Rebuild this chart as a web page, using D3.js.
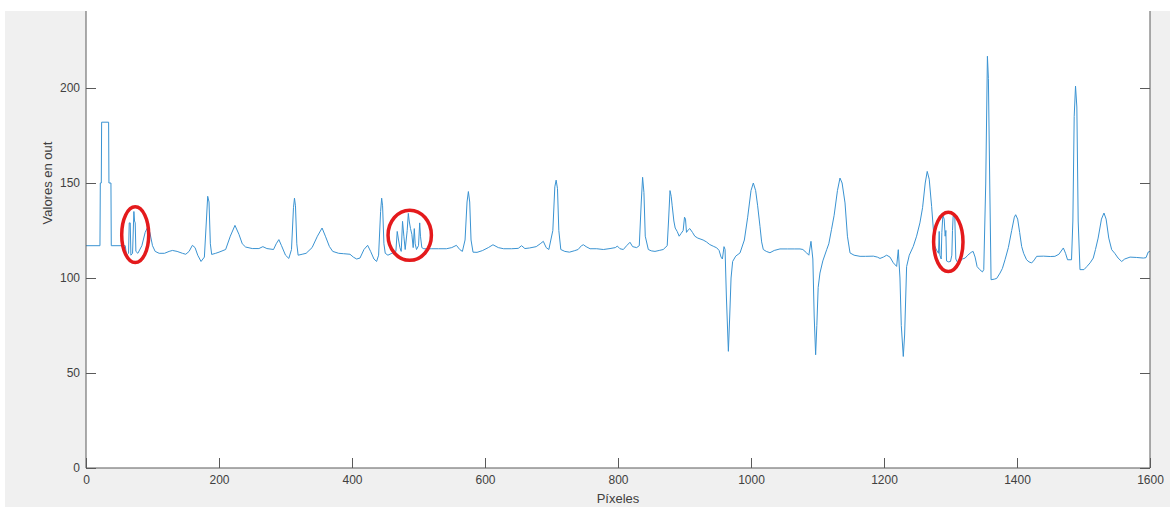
<!DOCTYPE html>
<html>
<head>
<meta charset="utf-8">
<script src="https://cdn.jsdelivr.net/npm/d3@7"></script>
<style>
  html, body { margin: 0; padding: 0; background: #ffffff; }
  svg { display: block; }
  text { font-family: "Liberation Sans", Arial, Helvetica, sans-serif; }
</style>
</head>
<body>
<svg id="chart" width="1170" height="507"></svg>
<script>
// ---- data ----
const pixelX = [
  0, 21, 21.5, 23, 23.5, 34, 34.5, 37.5, 38, 59, 61, 64, 65, 66.5, 67.5, 70, 72, 73, 74, 75, 78, 84, 89, 93, 96, 100, 104, 110,
  118, 125, 130, 137, 145, 150, 155, 160, 164, 168, 173, 178, 181, 183, 185, 187, 189, 195, 200, 210, 217, 224, 230, 235, 240,
  250, 260, 266, 272, 282, 286, 290, 294, 300, 305, 309, 312, 313.5, 315, 317, 319, 325, 331, 340, 348, 355, 360, 366, 371,
  380, 387, 397, 402, 407, 412, 418, 423.5, 428, 433, 437, 440, 443, 444.6, 446, 448, 450, 454, 460, 466, 468, 470, 472, 474,
  476, 478, 480, 483, 484.7, 486, 488, 490, 492, 493.7, 495, 497, 500, 501.8, 503, 505, 508, 520, 530, 542, 550, 557, 562, 566,
  570, 573, 575, 577, 579, 582, 588, 596, 605, 612, 620, 628, 640, 650, 655, 660, 667, 677, 683, 687.7, 692, 696, 702, 705, 707,
  709, 711, 714, 720, 727,
  735, 740, 745, 748, 752, 758, 768, 778, 788, 796, 799, 803, 808, 813, 818, 822, 828, 832, 835, 837, 839, 841, 845.6, 850,
  855.6, 862, 868, 874, 876, 878.2, 880, 881.5, 884, 886, 889, 892, 895, 898, 900, 901.5, 903, 906, 908, 912, 915.5, 920, 928,
  933, 938, 944, 948.4, 952, 955, 957, 959.4, 961, 963, 966, 968, 970, 972.4, 977, 983.5, 990, 995, 1000, 1003.5, 1007, 1010,
  1013.5, 1016, 1018.5, 1023, 1028.5, 1035, 1043.6, 1055, 1065, 1073.7, 1078, 1083.7, 1087, 1090.2, 1093, 1095, 1097.2, 1099,
  1101, 1103.7, 1108, 1113.8, 1117, 1121, 1125, 1130, 1133.8, 1137, 1141.4, 1145, 1148.9, 1155, 1164, 1172, 1184, 1190, 1194,
  1199, 1204, 1209, 1214, 1219, 1221.5, 1224, 1226, 1229, 1231, 1234, 1238, 1244, 1249, 1254, 1258, 1262, 1265, 1268, 1271.6,
  1275, 1276, 1279, 1282, 1283, 1284, 1286, 1287, 1288.5, 1290.5, 1292, 1293, 1294, 1297, 1300, 1302, 1303, 1304, 1306.5, 1308,
  1311, 1315, 1318, 1322, 1326, 1331, 1334, 1337, 1340, 1344, 1348, 1350, 1353, 1355.5, 1357, 1359, 1361, 1366, 1369.5, 1374.5,
  1378, 1382, 1387, 1392, 1396, 1398, 1401, 1404, 1407, 1410, 1414.4, 1418, 1422, 1426, 1429.6, 1440, 1450, 1457, 1463, 1469.7,
  1473, 1476, 1482, 1484, 1486, 1488, 1490, 1492, 1494.7, 1500.7, 1505, 1510, 1514.7, 1518, 1522, 1527, 1530.8, 1534, 1538,
  1542.4, 1547, 1552, 1557.4, 1562, 1570, 1580, 1590, 1594, 1597.4, 1600
];
const outValues = [
  117, 117, 150, 150, 182, 182, 150, 150, 117, 117, 112, 113, 129, 129, 112, 113, 135, 130, 129, 114, 113, 117, 124, 127, 124, 117, 114, 113,
  113, 114, 114.5, 114, 113, 112.5, 114, 117.2, 116, 112, 108.7, 111, 130, 143, 140, 118, 112.4, 113, 113.6, 115, 122, 127.7, 123, 118, 116.3,
  115.5, 115.5, 116.5, 115.5, 115, 118, 120.2, 117, 112, 110.3, 115, 137, 142, 138, 118, 112, 112.5, 113, 116, 122, 126.3, 122, 116.6, 114,
  113, 112.8, 112.5, 111, 110, 110.5, 115, 117.2, 114, 110, 108.7, 112, 135, 142, 138, 118, 113, 112, 113, 114, 124.5, 120, 116, 114,
  129.8, 122, 115, 125, 134, 130, 126, 123, 116, 126, 118, 115, 117, 129, 122, 116, 115.4, 115.4, 115.4, 115.4, 116, 117.2, 115, 114,
  120, 140, 145.5, 140, 120, 113.6, 113.5, 114.4, 116, 117.5, 116, 115.4, 115.4, 115.6, 117, 115.5, 115.8, 116.5, 118, 119.3, 116, 115, 125, 148, 151.5,
  147, 125, 115, 114, 113.6,
  114.4, 115, 117, 117.5, 116.5, 115.4, 115.4, 115, 115.5, 116, 116.8, 115.4, 115, 117, 118.8, 116.5, 116, 117, 140, 153, 145, 122, 115, 114.3,
  114, 114.5, 115, 117, 130, 146, 143, 138, 130, 126.3, 124.5, 122, 123.5, 125, 132, 131, 124, 125.5, 126, 124, 122, 121, 120,
  119, 117.6, 116.6, 115.9, 114.5, 111, 110, 116.5, 115, 90, 61.4, 80, 100, 108.7, 111.5, 113.2, 120, 132, 146, 150, 146, 138,
  127.2, 119, 115, 114, 113.3, 114.5, 115.3, 115.3, 115.3, 115.3, 115, 113.2, 112, 119.3, 110, 80, 59.6, 75,
  95, 102.6, 109, 114.9, 118, 125.4, 133, 146, 152.6, 150, 139.5, 122, 113.2, 112, 111.4, 111.4, 111.5, 111, 110.3,
  111, 112, 111, 108, 106.1, 114.9, 100, 75, 58.7, 70, 106, 112, 116.6, 122, 129, 137, 150, 156.1, 152, 137.7,
  122, 117, 114.7, 113, 124.5, 112, 110, 124, 133, 131, 122, 125, 109, 108.5, 108.7, 112, 125, 132.6, 132, 110,
  108, 109, 110, 110.5, 112, 113.5, 114, 111, 106, 104.4, 103.2, 104.4, 150, 216.7, 205, 150, 99.1, 99.4, 99.8, 102.6,
  105, 109.6, 116, 125, 132, 133.3, 131, 124, 116.6, 113, 109.6, 108.5, 107.9, 109.5, 111.4, 111.5, 111.3, 111.4, 112.5, 115.8,
  113, 109.6, 109.6, 130, 185, 201, 190, 130, 104.4, 104.4, 106, 108, 110.5, 115, 121, 131, 134.2, 131, 121,
  114.9, 113, 110.5, 108.7, 110, 111, 110.8, 110.5, 110.7, 113.7, 114
];
const xTickValues = [0, 200, 400, 600, 800, 1000, 1200, 1400, 1600];
const yTickValues = [0, 50, 100, 150, 200];
// highlighted regions (red ellipses), in data units: centre x, centre y, radius x, radius y
const markCenterX = [74, 486.8, 1296.7];
const markCenterY = [122.8, 122.5, 119];
const markRadiusX = [20.3, 32.6, 22.1];
const markRadiusY = [14.7, 13.2, 15.6];
const xLabel = "Píxeles";
const yLabel = "Valores en out";

// ---- drawing ----
const svg = d3.select("#chart");
const W = 1170, H = 507;
const plotLeft = 86, plotRight = 1150, plotTop = 12, plotBottom = 468;

const x = d3.scaleLinear().domain([0, 1600]).range([plotLeft, plotRight]);
const y = d3.scaleLinear().domain([0, 240]).range([plotBottom, plotTop]);

// figure background
svg.append("rect").attr("x", 5).attr("y", 11).attr("width", W - 5).attr("height", H - 11).attr("fill", "#f0f0f0");
// axes background
svg.append("rect").attr("x", plotLeft).attr("y", 11).attr("width", plotRight - plotLeft).attr("height", plotBottom - 11).attr("fill", "#ffffff");

// signal
const n = Math.min(pixelX.length, outValues.length);
const pts = d3.range(n).map(i => [pixelX[i], outValues[i]]);
const line = d3.line().x(d => x(d[0])).y(d => y(d[1]));
svg.append("path")
  .datum(pts)
  .attr("d", line)
  .attr("fill", "none")
  .attr("stroke", "#3a93d2")
  .attr("stroke-width", 1)
  .attr("stroke-linejoin", "round");

// red ellipses
svg.selectAll("ellipse.mark")
  .data(markCenterX.map((d, i) => ({cx: d, cy: markCenterY[i], rx: markRadiusX[i], ry: markRadiusY[i]})))
  .enter().append("ellipse")
  .attr("class", "mark")
  .attr("cx", d => x(d.cx))
  .attr("cy", d => y(d.cy))
  .attr("rx", d => x(d.rx) - x(0))
  .attr("ry", d => y(0) - y(d.ry))
  .attr("fill", "none")
  .attr("stroke", "#e41a1c")
  .attr("stroke-width", 3.5);

const axisColor = "#5a5a5a";
const tickLen = 10;

// bottom axis
const gx = svg.append("g").attr("transform", `translate(0,${plotBottom})`)
  .call(d3.axisBottom(x).tickValues(xTickValues).tickSizeInner(-tickLen).tickSizeOuter(0).tickPadding(7).tickFormat(d3.format("d")));
// left axis
const gy = svg.append("g").attr("transform", `translate(${plotLeft},0)`)
  .call(d3.axisLeft(y).tickValues(yTickValues).tickSizeInner(-tickLen).tickSizeOuter(0).tickPadding(6).tickFormat(d3.format("d")));
// right axis (mirrored ticks, no labels)
const gr = svg.append("g").attr("transform", `translate(${plotRight},0)`)
  .call(d3.axisRight(y).tickValues(yTickValues).tickSizeInner(-tickLen).tickSizeOuter(0).tickFormat(""));

[gx, gy, gr].forEach(g => {
  g.select(".domain").attr("stroke", axisColor).attr("stroke-width", 1);
  g.selectAll(".tick line").attr("stroke", axisColor).attr("stroke-width", 1);
  g.selectAll(".tick text").attr("fill", "#404040").attr("font-size", 12)
    .attr("font-family", "'Liberation Sans', Arial, Helvetica, sans-serif");
});
gy.select(".domain").attr("d", `M0,${plotBottom}V11`);
gr.select(".domain").attr("d", `M0,${plotBottom}V11`);
gx.select(".domain").attr("d", `M${plotLeft},0H${plotRight}`);

// axis labels
svg.append("text")
  .attr("x", 618)
  .attr("y", 503)
  .attr("text-anchor", "middle")
  .attr("font-size", 13)
  .attr("fill", "#404040")
  .text(xLabel);

svg.append("text")
  .attr("transform", "translate(52,183) rotate(-90)")
  .attr("text-anchor", "middle")
  .attr("font-size", 13)
  .attr("fill", "#404040")
  .text(yLabel);
</script>
</body>
</html>
